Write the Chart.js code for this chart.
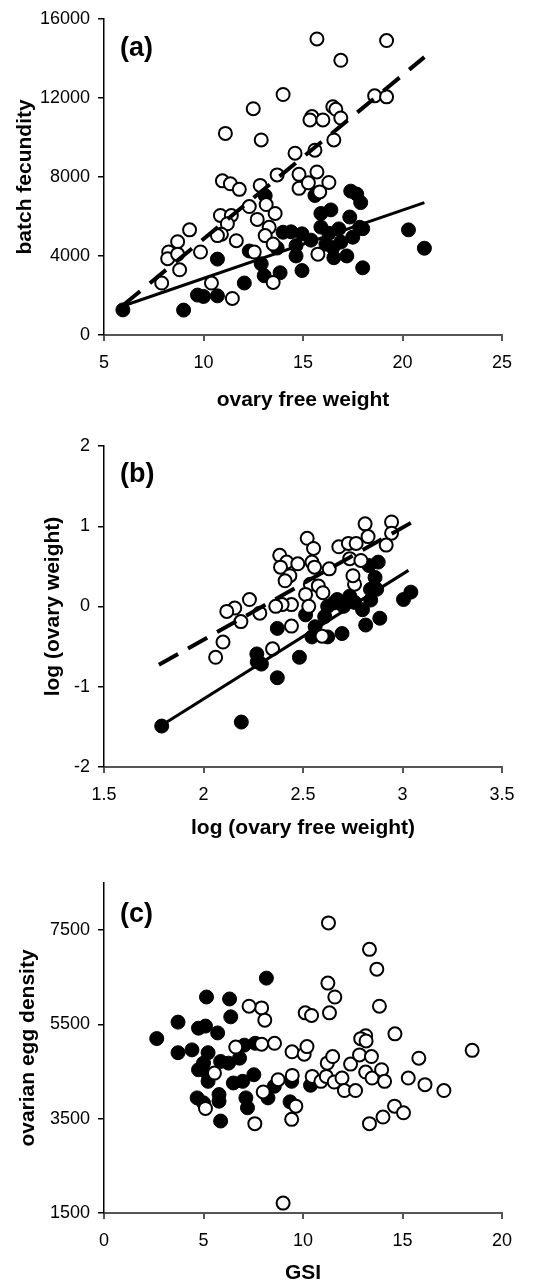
<!DOCTYPE html>
<html>
<head>
<meta charset="utf-8">
<script src="https://cdn.jsdelivr.net/npm/chart.js@4/dist/chart.umd.min.js"></script>
<style>
  html, body { margin: 0; padding: 0; background: #fff; }
  body { width: 552px; height: 1284px; position: relative; overflow: hidden; }
  canvas { position: absolute; left: 0; }
</style>
</head>
<body>
<canvas id="ca" width="552" height="420" style="top:0px"></canvas>
<canvas id="cb" width="552" height="430" style="top:420px"></canvas>
<canvas id="cc" width="552" height="434" style="top:850px"></canvas>
<script>
// ---------- Panel (a): batch fecundity vs ovary free weight ----------
const aOpen = [[15.7,14980],[19.2,14900],[16.9,13900],[14.0,12170],[18.6,12100],[19.2,12050],[12.5,11450],[16.5,11550],[16.65,11420],[16.9,10980],[15.45,11050],[15.35,10880],[16.0,10880],[11.1,10200],[12.9,9870],[16.55,9870],[14.6,9200],[15.6,9350],[13.7,8100],[14.8,8130],[15.7,8250],[10.95,7800],[11.35,7650],[11.8,7370],[12.85,7570],[14.8,7420],[15.27,7700],[15.84,7240],[16.3,7720],[12.3,6500],[13.15,6600],[13.6,6150],[12.7,5850],[13.3,5450],[13.1,5030],[13.5,4600],[10.85,6050],[11.4,6050],[11.2,5630],[10.9,5100],[10.7,5030],[11.65,4770],[9.3,5320],[8.7,4720],[8.25,4200],[8.2,3860],[8.7,4090],[9.85,4200],[8.8,3300],[7.9,2630],[10.4,2630],[11.45,1850],[12.55,4200],[13.5,2660],[15.75,4090]];
const aFilled = [[5.95,1270],[9.0,1260],[9.7,2020],[10.0,1950],[10.7,1980],[10.7,3840],[12.05,2630],[12.3,4250],[12.9,3600],[13.05,3000],[13.1,7050],[13.85,3150],[14.95,3260],[14.0,5200],[14.4,5220],[14.95,5120],[14.65,4520],[13.7,4400],[14.65,4000],[15.6,7060],[15.9,6150],[16.4,6330],[15.9,5460],[16.3,5150],[16.15,4600],[16.55,3910],[17.2,4000],[16.8,5370],[17.35,5970],[17.4,7280],[17.7,7130],[17.9,6700],[18.0,5380],[17.5,4950],[18.0,3400],[20.3,5320],[21.1,4390],[17.85,5450],[16.5,4420],[16.9,4700],[15.4,4800]];
const aDashLine = [[6.0,1540],[21.1,14060]];
const aSolidLine = [[5.95,1466],[21.1,6700]];
const aXTicks = [5, 10, 15, 20, 25];
const aYTicks = [0, 4000, 8000, 12000, 16000];

// ---------- Panel (b): log (ovary weight) vs log (ovary free weight) ----------
const bOpen = [[2.812,1.03],[2.945,1.053],[2.945,0.913],[2.918,0.765],[2.827,0.871],[2.68,0.744],[2.728,0.786],[2.767,0.786],[2.735,0.596],[2.791,0.574],[2.759,0.278],[2.751,0.384],[2.521,0.85],[2.553,0.723],[2.383,0.638],[2.418,0.553],[2.474,0.532],[2.387,0.49],[2.545,0.553],[2.558,0.49],[2.632,0.469],[2.434,0.384],[2.41,0.32],[2.537,0.278],[2.577,0.257],[2.6,0.172],[2.513,0.151],[2.442,0.024],[2.395,0.024],[2.363,0.002],[2.283,-0.083],[2.231,0.087],[2.157,-0.019],[2.117,-0.061],[2.188,-0.188],[2.529,0.002],[2.442,-0.244],[2.347,-0.528],[2.098,-0.443],[2.061,-0.633],[2.596,-0.37]];
const bFilled = [[1.79,-1.49],[2.19,-1.44],[2.268,-0.591],[2.291,-0.718],[2.27,-0.69],[2.371,-0.888],[2.371,-0.273],[2.482,-0.633],[2.513,-0.104],[2.545,-0.379],[2.561,-0.252],[2.609,-0.125],[2.624,-0.379],[2.624,0.002],[2.656,0.045],[2.672,0.087],[2.704,0.002],[2.735,0.129],[2.696,-0.337],[2.799,-0.04],[2.815,-0.231],[2.886,-0.146],[2.839,0.214],[2.87,0.214],[2.862,0.362],[2.831,0.511],[2.878,0.553],[3.005,0.087],[3.042,0.179],[2.76,0.05],[2.84,0.08]];
const bDashLine = [[1.776,-0.727],[3.042,1.042]];
const bSolidLine = [[1.79,-1.48],[3.03,0.45]];
const bXTicks = [1.5, 2, 2.5, 3, 3.5];
const bYTicks = [-2, -1, 0, 1, 2];

// ---------- Panel (c): ovarian egg density vs GSI ----------
const cOpen = [[11.28,7654],[13.34,7093],[13.71,6672],[11.25,6377],[11.6,6082],[11.33,5746],[13.84,5886],[7.92,5851],[8.08,5591],[7.29,5886],[10.11,5746],[10.43,5690],[14.62,5300],[13.15,5260],[12.9,5198],[13.17,5150],[6.62,5020],[7.92,5080],[8.57,5100],[9.45,4920],[10.06,4868],[10.2,5030],[18.5,4950],[5.55,4468],[5.1,3718],[7.58,3395],[8.0,4068],[8.75,4328],[9.46,4419],[9.43,3486],[9.64,3767],[10.46,4398],[10.9,4293],[11.17,4398],[11.22,4679],[11.49,4819],[11.57,4279],[11.96,4363],[12.08,4097],[12.39,4658],[12.64,4097],[12.84,4854],[13.15,4490],[13.44,4819],[13.47,4363],[13.95,4539],[14.1,4293],[15.29,4363],[15.82,4784],[16.13,4223],[17.08,4097],[13.34,3395],[14.02,3535],[14.6,3767],[15.05,3626],[9.0,1710]];
const cFilled = [[8.16,6482],[5.15,6082],[6.31,6040],[6.37,5661],[3.72,5549],[4.75,5420],[5.1,5465],[5.71,5320],[2.65,5200],[3.72,4900],[4.42,4960],[5.23,4900],[7.05,5060],[7.6,5100],[4.75,4539],[5.0,4679],[5.86,4714],[6.26,4679],[6.81,4784],[6.5,4258],[6.97,4293],[7.53,4433],[4.68,3942],[5.0,3837],[5.23,4293],[5.78,4012],[5.78,3872],[5.86,3451],[7.13,3942],[7.21,3732],[8.24,3942],[8.56,4188],[9.35,3858],[9.43,4293],[10.38,4209],[5.23,4433]];
const cXTicks = [0, 5, 10, 15, 20];
const cYTicks = [1500, 3500, 5500, 7500];
const cYRange = [1500, 8500];

// ---------- shared helpers ----------
const toPts = arr => arr.map(([x, y]) => ({ x, y }));
const FONT = "'Liberation Sans', Arial, sans-serif";

function panelLabel(text, dx, dy) {
  return {
    id: 'panelLabel',
    afterDraw(chart) {
      const { ctx, chartArea } = chart;
      ctx.save();
      ctx.font = `bold 27px ${FONT}`;
      ctx.fillStyle = '#000';
      ctx.textBaseline = 'middle';
      ctx.textAlign = 'left';
      ctx.fillText(text, chartArea.left + dx, chartArea.top + dy);
      ctx.restore();
    }
  };
}

function makeChart(id, cfg) {
  const datasets = [];
  if (cfg.dash) datasets.push({ data: toPts(cfg.dash), showLine: true, borderColor: '#000', borderWidth: 4, borderDash: cfg.dashPattern, pointRadius: 0, fill: false });
  if (cfg.solid) datasets.push({ data: toPts(cfg.solid), showLine: true, borderColor: '#000', borderWidth: 3, pointRadius: 0, fill: false });
  datasets.push({ data: toPts(cfg.open), showLine: false, pointRadius: 6.5, pointBorderWidth: 2, pointBackgroundColor: '#fff', pointBorderColor: '#000' });
  datasets.push({ data: toPts(cfg.filled), showLine: false, pointRadius: 7, pointBorderWidth: 1, pointBackgroundColor: '#000', pointBorderColor: '#000' });

  const yMin = cfg.yRange ? cfg.yRange[0] : cfg.yTicks[0];
  const yMax = cfg.yRange ? cfg.yRange[1] : cfg.yTicks[cfg.yTicks.length - 1];

  return new Chart(document.getElementById(id), {
    type: 'scatter',
    data: { datasets },
    options: {
      responsive: false,
      animation: false,
      events: [],
      layout: { padding: { left: 0, right: 50, top: cfg.padTop, bottom: 0 } },
      plugins: { legend: { display: false }, tooltip: { enabled: false } },
      scales: {
        x: {
          type: 'linear',
          min: cfg.xTicks[0], max: cfg.xTicks[cfg.xTicks.length - 1],
          afterBuildTicks: s => { s.ticks = cfg.xTicks.map(v => ({ value: v })); },
          ticks: { color: '#000', font: { family: FONT, size: 18 }, padding: 11, maxRotation: 0, autoSkip: false, callback: v => String(v) },
          grid: { drawOnChartArea: false, drawTicks: true, tickLength: 6, color: '#555', lineWidth: 2 },
          border: { display: true, color: '#555', width: 2 },
          title: { display: true, text: cfg.xTitle, color: '#000', font: { family: FONT, size: 21, weight: 'bold', lineHeight: 1 }, padding: { top: 0, bottom: cfg.xTitlePad } },
          afterFit: s => { s.height = cfg.xAxisH; }
        },
        y: {
          type: 'linear',
          min: yMin, max: yMax,
          afterBuildTicks: s => { s.ticks = cfg.yTicks.map(v => ({ value: v })); },
          ticks: { color: '#000', font: { family: FONT, size: 18 }, padding: 8, autoSkip: false, callback: v => String(v) },
          grid: { drawOnChartArea: false, drawTicks: true, tickLength: 6, color: '#000', lineWidth: 1.5 },
          border: { display: true, color: '#000', width: 1.5 },
          title: { display: true, text: cfg.yTitle, color: '#000', font: { family: FONT, size: 21, weight: 'bold', lineHeight: 1 }, padding: { top: cfg.yTitlePad, bottom: 0 } },
          afterFit: s => { s.width = 104; }
        }
      }
    },
    plugins: [panelLabel(cfg.label, 16, cfg.labelDy)]
  });
}

makeChart('ca', {
  open: aOpen, filled: aFilled, dash: aDashLine, solid: aSolidLine, dashPattern: [21, 12.6],
  xTicks: aXTicks, yTicks: aYTicks,
  xTitle: 'ovary free weight', yTitle: 'batch fecundity', label: '(a)',
  padTop: 16, xAxisH: 85, xTitlePad: 9, yTitlePad: 15, labelDy: 30
});
makeChart('cb', {
  open: bOpen, filled: bFilled, dash: bDashLine, solid: bSolidLine, dashPattern: [22, 11.4],
  xTicks: bXTicks, yTicks: bYTicks,
  xTitle: 'log (ovary free weight)', yTitle: 'log (ovary weight)', label: '(b)',
  padTop: 26, xAxisH: 83, xTitlePad: 11, yTitlePad: 43, labelDy: 29
});
makeChart('cc', {
  open: cOpen, filled: cFilled,
  xTicks: cXTicks, yTicks: cYTicks, yRange: cYRange,
  xTitle: 'GSI', yTitle: 'ovarian egg density', label: '(c)',
  padTop: 33, xAxisH: 71, xTitlePad: 0, yTitlePad: 18, labelDy: 32
});
</script>
</body>
</html>
